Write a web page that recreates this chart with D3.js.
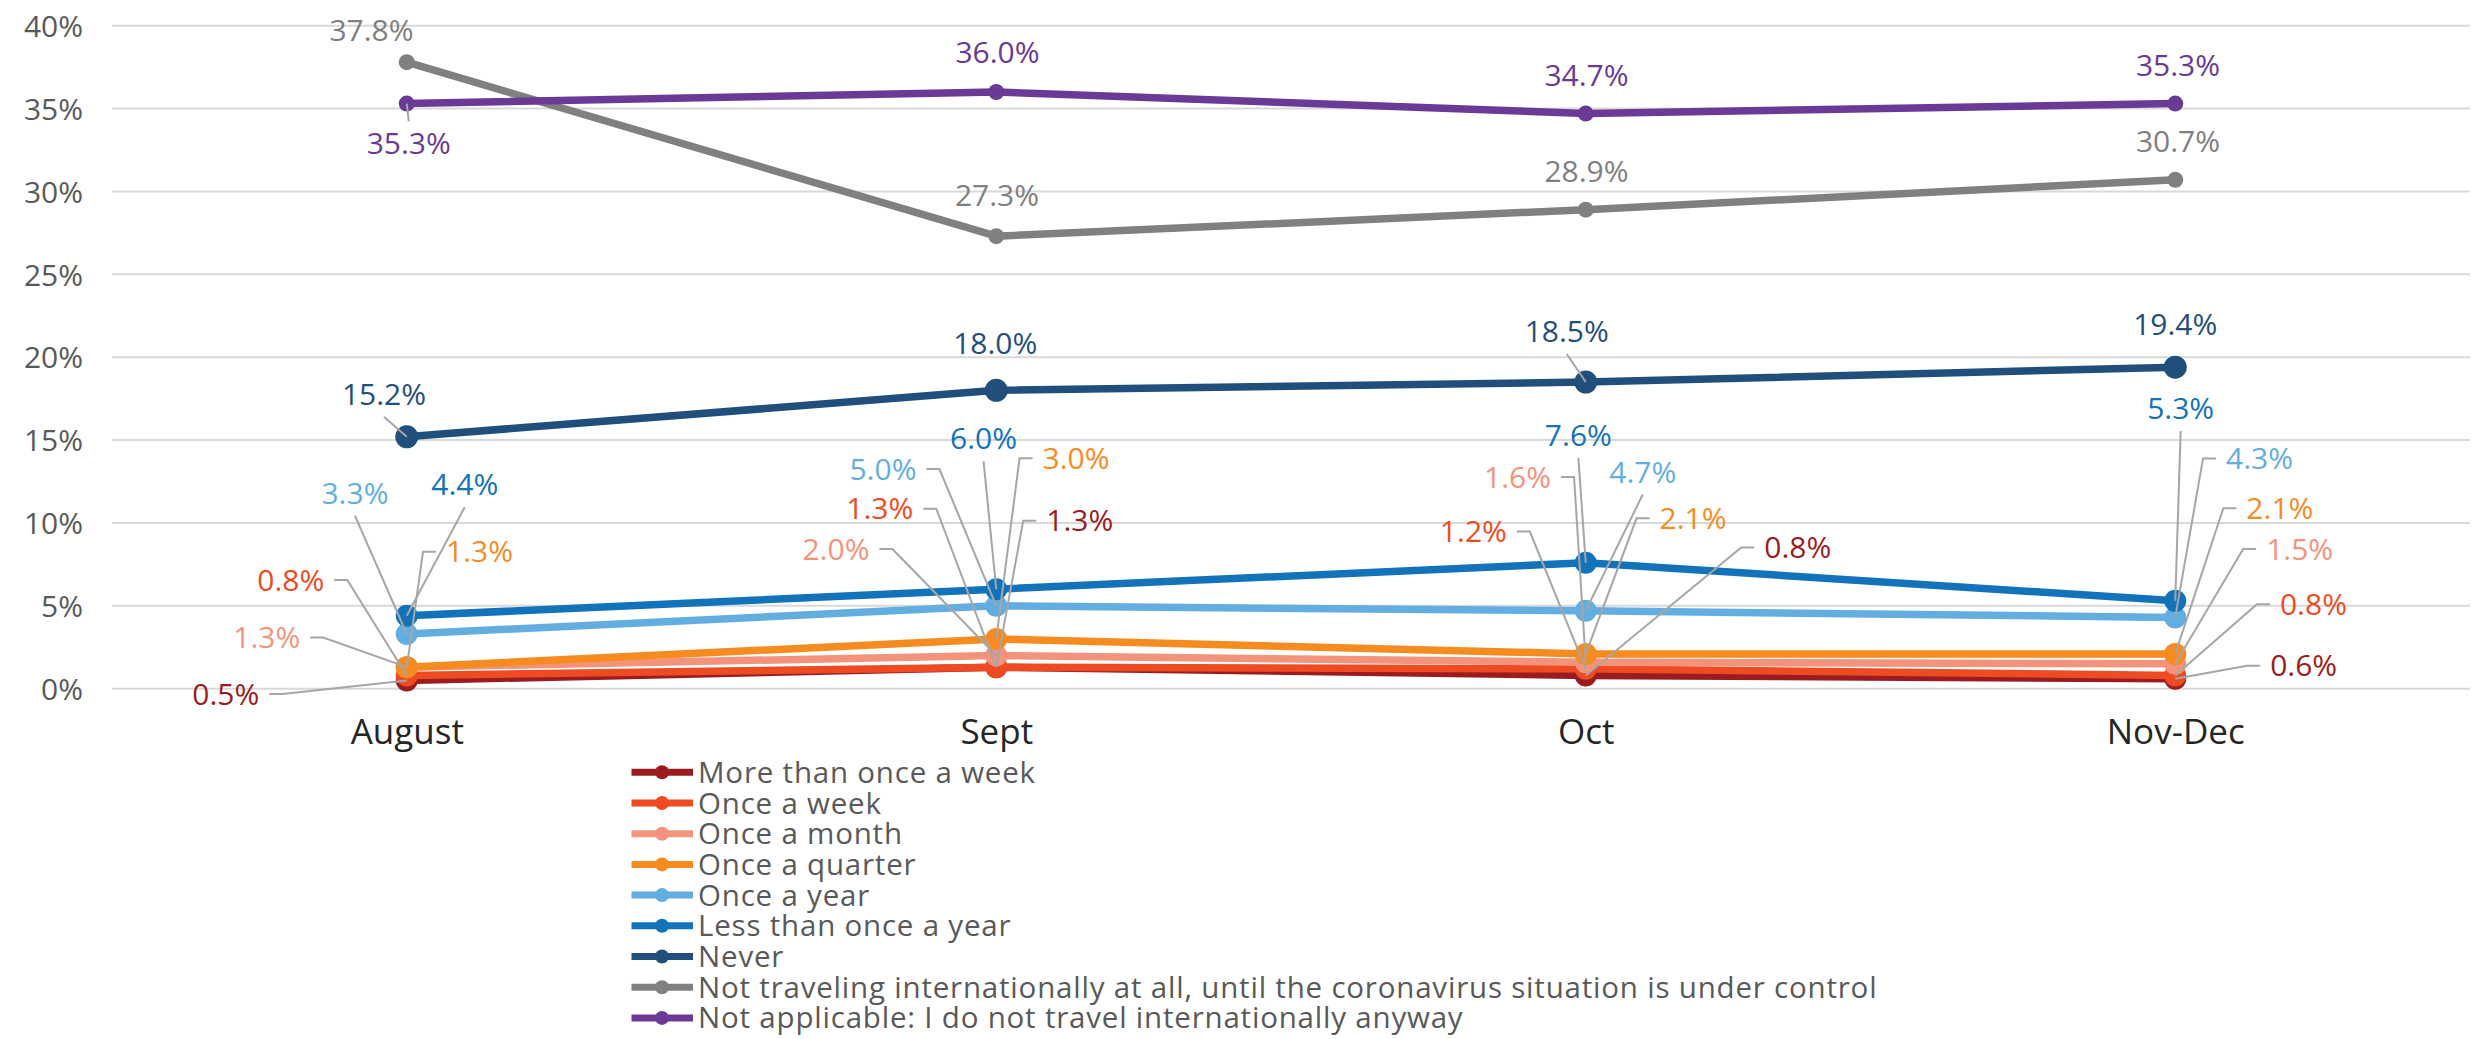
<!DOCTYPE html>
<html>
<head>
<meta charset="utf-8">
<script src="https://cdn.jsdelivr.net/npm/d3@7"></script>
<style>
  html, body { margin: 0; padding: 0; background: #ffffff; }
  svg { display: block; }
  text { font-family: "Open Sans", "Noto Sans", sans-serif; }
</style>
</head>
<body>
<script>
// ---------------- DATA ----------------
const categories = ["August", "Sept", "Oct", "Nov-Dec"];
const seriesNames = [
  "More than once a week",
  "Once a week",
  "Once a month",
  "Once a quarter",
  "Once a year",
  "Less than once a year",
  "Never",
  "Not traveling internationally at all, until the coronavirus situation is under control",
  "Not applicable: I do not travel internationally anyway"
];
const moreThanOnceAWeek = [0.5, 1.3, 0.8, 0.6];
const onceAWeek         = [0.8, 1.3, 1.2, 0.8];
const onceAMonth        = [1.3, 2.0, 1.6, 1.5];
const onceAQuarter      = [1.3, 3.0, 2.1, 2.1];
const onceAYear         = [3.3, 5.0, 4.7, 4.3];
const lessThanOnceAYear = [4.4, 6.0, 7.6, 5.3];
const never             = [15.2, 18.0, 18.5, 19.4];
const notTraveling      = [37.8, 27.3, 28.9, 30.7];
const notApplicable     = [35.3, 36.0, 34.7, 35.3];
const yTicks = [0, 5, 10, 15, 20, 25, 30, 35, 40];

const seriesValues = [moreThanOnceAWeek, onceAWeek, onceAMonth, onceAQuarter,
  onceAYear, lessThanOnceAYear, never, notTraveling, notApplicable];

// ---------------- STYLE ----------------
const seriesColors = ["#9B1C20", "#EE4B23", "#F4937B", "#F68B1F", "#63AEE0",
  "#1273BB", "#1F4F7A", "#808080", "#6B3996"];
const markerRadius = [11, 11, 11, 11, 11, 11, 11.5, 8, 8];

// label layout: [dx, dy, leaderType] relative to each point
// L = label left of point with elbow, R = label right with elbow, S = straight, N = none
const labelLayout = [
  [[-181, 13.6, "L"], [83.5, -146.4, "R"], [212, -128, "R"], [128.4, -13, "R"]],
  [[-116, -95.4, "L"], [-116.5, -158.5, "L"], [-112.4, -137.3, "L"], [138.2, -71.2, "R"]],
  [[-140, -29.6, "L"], [-160.3, -106.5, "L"], [-68.2, -185.2, "L"], [124.4, -114.8, "R"]],
  [[72.8, -115.5, "R"], [79.8, -180.7, "R"], [107.3, -135.6, "R"], [104.6, -145.6, "R"]],
  [[-51.8, -141, "S"], [-113.3, -136.8, "L"], [57, -139, "S"], [84.3, -159, "R"]],
  [[58, -131.3, "S"], [-12.7, -150.9, "S"], [-7.4, -127.7, "S"], [5.4, -192.6, "S"]],
  [[-22.8, -42.8, "S"], [-1, -47, "N"], [-19, -50.8, "S"], [0, -43, "N"]],
  [[-35.3, -31.9, "N"], [0.75, -41, "N"], [0.75, -38, "N"], [2.75, -38.2, "N"]],
  [[2, 39.4, "S"], [1.25, -39.5, "N"], [0.75, -38.5, "N"], [2.75, -38.3, "N"]]
];

// ---------------- CHART ----------------
const W = 2481, H = 1039;
const plotLeft = 112, plotRight = 2470, plotTop = 25.7, plotBottom = 688.7;
const labelFs = 30, capRatio = 0.714;

const svg = d3.select("body").append("svg").attr("width", W).attr("height", H);
svg.append("rect").attr("width", W).attr("height", H).attr("fill", "#ffffff");

const x = d3.scalePoint().domain(categories).range([plotLeft, plotRight]).padding(0.5);
const y = d3.scaleLinear().domain([0, 40]).range([plotBottom, plotTop]);

// gridlines
svg.append("g").selectAll("line").data(yTicks).join("line")
  .attr("x1", plotLeft).attr("x2", plotRight)
  .attr("y1", d => y(d)).attr("y2", d => y(d))
  .attr("stroke", "#d9d9d9").attr("stroke-width", 2);

// y axis
const yAxis = svg.append("g").attr("transform", `translate(${plotLeft},0)`)
  .call(d3.axisLeft(y).tickValues(yTicks).tickFormat(d => d + "%").tickSize(0).tickPadding(29));
yAxis.select(".domain").remove();
yAxis.selectAll("text").attr("dy", null)
  .attr("y", 0.357 * 30)
  .style("font-family", "'Open Sans', sans-serif").style("font-size", "30px").attr("fill", "#595959");

// x axis
const xAxis = svg.append("g").attr("transform", `translate(0,${plotBottom})`)
  .call(d3.axisBottom(x).tickSize(0));
xAxis.select(".domain").remove();
xAxis.selectAll("text").attr("dy", null).attr("y", 55.5)
  .style("font-family", "'Open Sans', sans-serif").style("font-size", "35px").attr("fill", "#262626");

const line = d3.line().x((d, i) => x(categories[i])).y(d => y(d));

// lines + markers
const seriesG = svg.append("g");
seriesValues.forEach((vals, s) => {
  const g = seriesG.append("g");
  g.append("path").datum(vals).attr("d", line)
    .attr("fill", "none").attr("stroke", seriesColors[s]).attr("stroke-width", 7.5)
    .attr("stroke-linejoin", "round").attr("stroke-linecap", "round");
  g.selectAll("circle").data(vals).join("circle")
    .attr("cx", (d, i) => x(categories[i])).attr("cy", d => y(d))
    .attr("r", markerRadius[s]).attr("fill", seriesColors[s]);
});

// labels + leaders
const leaderG = svg.append("g");
const labelG = svg.append("g");
seriesValues.forEach((vals, s) => {
  vals.forEach((v, i) => {
    const [dx, dy, type] = labelLayout[s][i];
    const px = x(categories[i]), py = y(v);
    const lx = px + dx, ly = py + dy;
    const t = labelG.append("text")
      .attr("x", lx).attr("y", ly + capRatio * labelFs / 2)
      .attr("text-anchor", "middle")
      .style("font-size", labelFs + "px")
      .attr("fill", seriesColors[s])
      .text(v.toFixed(1) + "%");
    const w = t.node().getComputedTextLength();
    const halfCap = capRatio * labelFs / 2;
    let d = null;
    if (type === "L") {
      const sx = lx + w / 2 + 10;
      d = `M${sx},${ly}H${sx + 13}L${px},${py}`;
    } else if (type === "R") {
      const sx = lx - w / 2 - 10;
      d = `M${sx},${ly}H${sx - 13}L${px},${py}`;
    } else if (type === "S") {
      if (ly < py) d = `M${lx},${ly + halfCap + 12}L${px},${py}`;
      else d = `M${lx},${ly - halfCap - 11}L${px},${py}`;
    }
    if (d) leaderG.append("path").attr("d", d).attr("fill", "none")
      .attr("stroke", "#A6A6A6").attr("stroke-width", 2);
  });
});

// legend
const legendFs = 29.5;
const legendG = svg.append("g");
seriesNames.forEach((name, s) => {
  const cy = 772.3 + s * 30.7;
  const g = legendG.append("g");
  g.append("line").attr("x1", 631.5).attr("x2", 693).attr("y1", cy).attr("y2", cy)
    .attr("stroke", seriesColors[s]).attr("stroke-width", 7);
  g.append("circle").attr("cx", 662).attr("cy", cy).attr("r", 7).attr("fill", seriesColors[s]);
  g.append("text").attr("x", 698).attr("y", cy + 0.357 * legendFs)
    .style("font-size", legendFs + "px").style("letter-spacing", "0.8px")
    .attr("fill", "#595959").text(name);
});
</script>
</body>
</html>
